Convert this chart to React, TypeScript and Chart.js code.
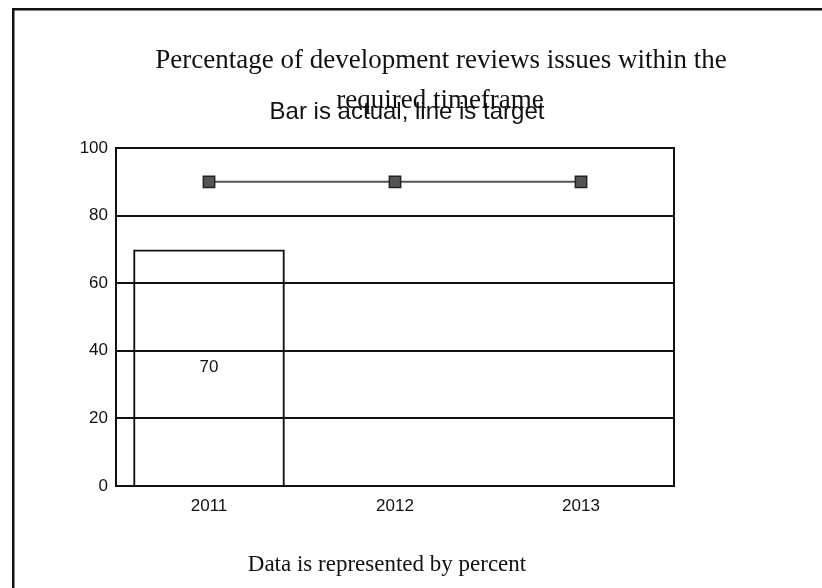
import React, { useEffect, useRef } from "react";
import { Chart, registerables } from "chart.js";

Chart.register(...registerables);

// Years on the category axis
const categories = ["2011", "2012", "2013"];
// Actual percentage achieved (bars)
const actualValues: (number | null)[] = [70, null, null];
// Target percentage (line)
const targetValues = [90, 90, 90];
// Value axis range and step
const yMin = 0;
const yMax = 100;
const yStep = 20;

const titleLines = [
  "Percentage of development reviews issues within the",
  "required timeframe",
];
const subtitleText = "Bar is actual, line is target";
const footerText = "Data is represented by percent";

const SERIF = '"Liberation Serif", "Times New Roman", serif';
const SANS = '"Liberation Sans", Arial, sans-serif';

// Page frame, headings and footer drawn around the plot
const decorPlugin = {
  id: "decor",
  beforeDraw(chart: any) {
    const { ctx, width, height } = chart;
    ctx.save();
    ctx.fillStyle = "#ffffff";
    ctx.fillRect(0, 0, width, height);
    ctx.fillStyle = "#111111";
    ctx.fillRect(12, 8, 2.5, height - 8);
    ctx.fillRect(12, 8, width - 12, 2.5);
    ctx.restore();
  },
  afterDraw(chart: any) {
    const { ctx } = chart;
    ctx.save();
    ctx.fillStyle = "#111111";
    ctx.textAlign = "center";
    ctx.textBaseline = "alphabetic";
    ctx.font = `27px ${SERIF}`;
    ctx.fillText(titleLines[0], 441, 68);
    ctx.fillText(titleLines[1], 440, 108);
    ctx.font = `24px ${SANS}`;
    ctx.fillText(subtitleText, 407, 119);
    ctx.font = `23px ${SERIF}`;
    ctx.fillText(footerText, 387, 571);
    ctx.restore();
  },
};

// Box around the plotting area
const plotBoxPlugin = {
  id: "plotBox",
  beforeDatasetsDraw(chart: any) {
    const { ctx, chartArea } = chart;
    ctx.save();
    ctx.strokeStyle = "#111111";
    ctx.lineWidth = 2;
    ctx.strokeRect(
      chartArea.left,
      chartArea.top,
      chartArea.right - chartArea.left,
      chartArea.bottom - chartArea.top
    );
    ctx.restore();
  },
};

// Value written in the middle of each bar
const barValuePlugin = {
  id: "barValue",
  afterDatasetsDraw(chart: any) {
    const { ctx } = chart;
    const meta = chart.getDatasetMeta(0);
    ctx.save();
    ctx.fillStyle = "#111111";
    ctx.font = `17px ${SANS}`;
    ctx.textAlign = "center";
    ctx.textBaseline = "middle";
    meta.data.forEach((bar: any, i: number) => {
      const v = actualValues[i];
      if (v == null) return;
      ctx.fillText(String(v), bar.x, (bar.y + bar.base) / 2);
    });
    ctx.restore();
  },
};

export default function App() {
  const canvasRef = useRef<HTMLCanvasElement | null>(null);

  useEffect(() => {
    if (!canvasRef.current) return;
    const chart = new Chart(canvasRef.current, {
      type: "bar",
      data: {
        labels: categories,
        datasets: [
          {
            type: "bar",
            label: "Actual",
            data: actualValues,
            backgroundColor: "rgba(0,0,0,0)",
            borderColor: "#111111",
            borderWidth: 2,
            categoryPercentage: 1,
            barPercentage: 0.815,
            order: 1,
          },
          {
            type: "line",
            label: "Target",
            data: targetValues,
            borderColor: "#555555",
            borderWidth: 2,
            pointStyle: "rect",
            pointRadius: 8,
            pointBackgroundColor: "#555555",
            pointBorderColor: "#222222",
            pointBorderWidth: 1.5,
            fill: false,
            order: 0,
          },
        ],
      } as any,
      options: {
        animation: false,
        responsive: false,
        devicePixelRatio: 1,
        layout: { padding: { top: 148, right: 148, left: 0, bottom: 0 } },
        plugins: {
          legend: { display: false },
          tooltip: { enabled: false },
          title: { display: false },
        },
        scales: {
          x: {
            grid: { display: false, drawTicks: false },
            border: { display: true, color: "#111111", width: 2 },
            ticks: {
              color: "#111111",
              font: { family: SANS, size: 17 },
              padding: 10,
            },
            afterFit(scale: any) {
              scale.height = 102;
            },
          },
          y: {
            min: yMin,
            max: yMax,
            grid: { color: "#111111", lineWidth: 2, drawTicks: false },
            border: { display: true, color: "#111111", width: 2 },
            ticks: {
              stepSize: yStep,
              color: "#111111",
              font: { family: SANS, size: 17 },
              padding: 8,
            },
            afterFit(scale: any) {
              scale.width = 116;
            },
          },
        },
      } as any,
      plugins: [decorPlugin, plotBoxPlugin, barValuePlugin],
    });
    return () => chart.destroy();
  }, []);

  return (
    <div style={{ position: "absolute", left: 0, top: 0, width: 822, height: 588 }}>
      <canvas ref={canvasRef} width={822} height={588} style={{ display: "block" }} />
    </div>
  );
}
